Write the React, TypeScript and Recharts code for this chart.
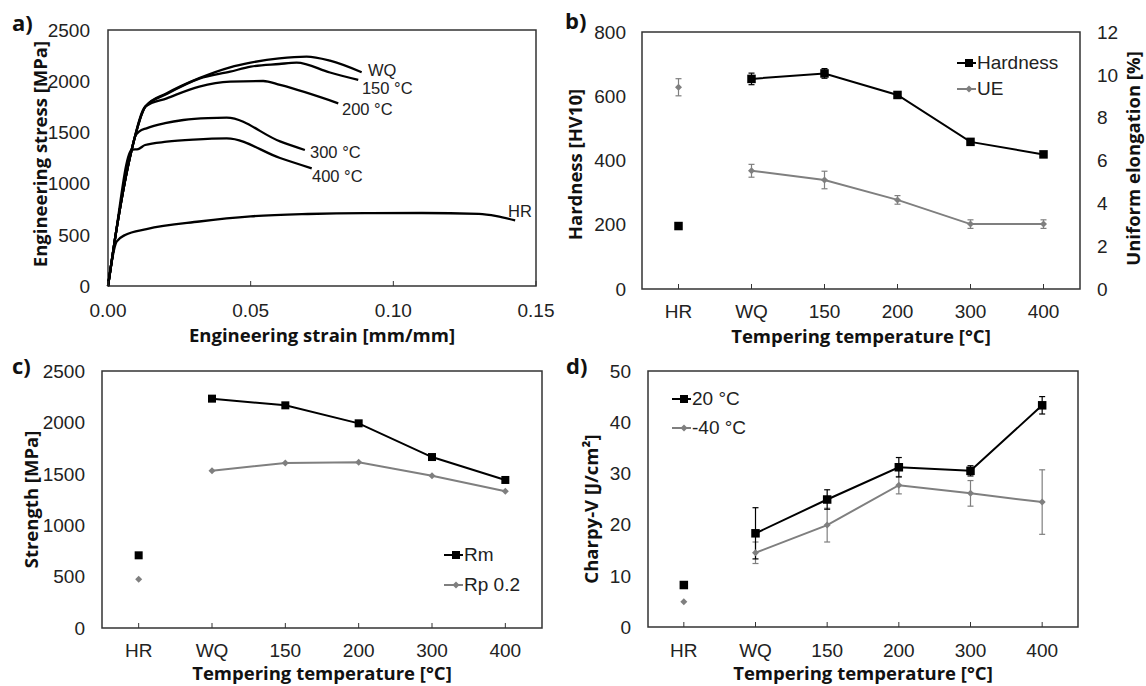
import React from 'react';
import {
  ErrorBar,
  Label,
  Legend,
  Line,
  LineChart,
  ReferenceArea,
  ReferenceDot,
  XAxis,
  YAxis
} from 'recharts';

// ---- a) tensile curves, [strain mm/mm, stress MPa]
const curveWQ = [[0, 0], [0.0024, 450], [0.0083, 1330], [0.0132, 1755], [0.0206, 1882], [0.032, 2030], [0.0428, 2136], [0.05, 2181], [0.06, 2223], [0.0696, 2240], [0.0778, 2200], [0.0889, 2087]];
const curve150 = [[0, 0], [0.0024, 450], [0.0083, 1330], [0.0132, 1755], [0.0206, 1875], [0.032, 2025], [0.0428, 2093], [0.05, 2142], [0.06, 2168], [0.0661, 2181], [0.0778, 2085], [0.0877, 2012]];
const curve200 = [[0, 0], [0.0024, 450], [0.0083, 1330], [0.0132, 1755], [0.0206, 1833], [0.032, 1947], [0.0428, 1995], [0.0544, 2002], [0.0603, 1963], [0.0807, 1784]];
const curve300 = [[0, 0], [0.0024, 450], [0.0083, 1330], [0.0095, 1460], [0.011, 1510], [0.0135, 1540], [0.02, 1590], [0.0264, 1621], [0.035, 1640], [0.0416, 1644], [0.0603, 1412], [0.069, 1328]];
const curve400 = [[0, 0], [0.0024, 450], [0.0083, 1330], [0.0106, 1337], [0.013, 1377], [0.0206, 1409], [0.03, 1430], [0.0416, 1442], [0.0603, 1250], [0.0714, 1149]];
const curveHR = [[0, 0], [0.003, 433], [0.006, 498], [0.0135, 556], [0.032, 630], [0.05, 680], [0.07, 703], [0.09, 712], [0.11, 713], [0.13, 705], [0.1362, 683], [0.1427, 640]];

const curveLabels = [
  { text: 'WQ', strain: 0.0911, stress: 2109 },
  { text: '150 °C', strain: 0.089, stress: 1934 },
  { text: '200 °C', strain: 0.082, stress: 1729 },
  { text: '300 °C', strain: 0.0708, stress: 1304 },
  { text: '400 °C', strain: 0.0715, stress: 1074 },
  { text: 'HR', strain: 0.1402, stress: 732 }
];

const strainTicks = [0, 0.05, 0.1, 0.15];
const stressTicks = [0, 500, 1000, 1500, 2000, 2500];

// ---- b), c), d) categories
const categories = ['HR', 'WQ', '150', '200', '300', '400'];
const catTicks = [0, 1, 2, 3, 4, 5];

const hardness = [196, 654, 671, 604, 458, 419];
const hardnessErr = [0, 18, 15, 10, 6, 6];
const uniformElong = [9.42, 5.52, 5.09, 4.16, 3.03, 3.03];
const uniformElongErr = [0.4, 0.3, 0.41, 0.2, 0.2, 0.2];
const hardnessTicks = [0, 200, 400, 600, 800];
const ueTicks = [0, 2, 4, 6, 8, 10, 12];

const rm = [707, 2231, 2166, 1991, 1663, 1440];
const rp02 = [474, 1530, 1605, 1612, 1482, 1330];

const charpy20 = [8.2, 18.3, 24.9, 31.2, 30.5, 43.3];
const charpy20Err = [0, 5.0, 1.9, 1.9, 1.0, 1.7];
const charpy40 = [4.95, 14.5, 19.9, 27.7, 26.1, 24.4];
const charpy40Err = [0, 2.1, 3.3, 1.7, 2.5, 6.3];
const charpyTicks = [0, 10, 20, 30, 40, 50];

const BLACK = '#000000';
const GRAY = '#7f7f7f';
const FRAME = '#333333';
const tickFamily = '"Liberation Sans", Arial, sans-serif';
const tickStyle = { fontFamily: tickFamily, fontSize: 19, fill: '#222' };
const titleProps = { fontFamily: '"Open Sans", sans-serif', fontWeight: 700, fontSize: 18.5, fill: '#111' };

const toPoints = (curve: number[][]) => curve.map(([x, y]) => ({ x, y }));

// main series skips HR, which is drawn as a lone point
function splitRows(series: Record<string, { values: number[]; errors?: number[] }>) {
  return categories.map((_, i) => {
    const row: Record<string, number | null> = { i };
    Object.entries(series).forEach(([key, s]) => {
      row[key] = i === 0 ? null : s.values[i];
      row[key + 'HR'] = i === 0 ? s.values[i] : null;
      if (s.errors) {
        row[key + 'Err'] = i === 0 ? null : s.errors[i];
        row[key + 'HRErr'] = i === 0 ? s.errors[i] : null;
      }
    });
    return row;
  });
}

function squareDot(size: number, fill: string) {
  return (props: any) => {
    const { cx, cy, index } = props;
    if (!Number.isFinite(cx) || !Number.isFinite(cy)) return <g key={`s${index}`} />;
    return <rect key={`s${index}`} x={cx - size / 2} y={cy - size / 2} width={size} height={size} fill={fill} />;
  };
}

function diamondDot(size: number, fill: string) {
  return (props: any) => {
    const { cx, cy, index } = props;
    if (!Number.isFinite(cx) || !Number.isFinite(cy)) return <g key={`d${index}`} />;
    const h = size / 2;
    return <path key={`d${index}`} d={`M${cx},${cy - h}L${cx + h},${cy}L${cx},${cy + h}L${cx - h},${cy}Z`} fill={fill} />;
  };
}

interface LegendItem { label: string; color: string; shape: 'square' | 'diamond' }

function MarkerLegend({ items, rowHeight }: { items: LegendItem[]; rowHeight: number }) {
  return (
    <div style={{ fontFamily: tickFamily, fontSize: 19, color: '#222' }}>
      {items.map((it) => (
        <div key={it.label} style={{ display: 'flex', alignItems: 'center', height: rowHeight, whiteSpace: 'nowrap' }}>
          <svg width={19} height={12} style={{ marginRight: 1 }}>
            <line x1={0} y1={6} x2={19} y2={6} stroke={it.color} strokeWidth={2} />
            {it.shape === 'square'
              ? <rect x={8} y={2} width={8} height={8} fill={it.color} />
              : <path d="M12,2.5L15.5,6L12,9.5L8.5,6Z" fill={it.color} />}
          </svg>
          <span>{it.label}</span>
        </div>
      ))}
    </div>
  );
}

const catAxis = (tickMargin: number, dy: number) => (
  <XAxis
    type="number"
    dataKey="i"
    domain={[-0.5, 5.5]}
    ticks={catTicks}
    interval={0}
    tickFormatter={(v: number) => categories[v]}
    tick={tickStyle}
    tickSize={-5}
    tickMargin={tickMargin}
    axisLine={false}
    stroke={FRAME}
    height={40}
  >
    <Label value="Tempering temperature [°C]" position="center" dy={dy} {...titleProps} />
  </XAxis>
);

function TensilePanel() {
  const curves = [curveWQ, curve150, curve200, curve300, curve400, curveHR];
  return (
    <LineChart width={560} height={350} margin={{ top: 30, right: 24, bottom: 24, left: 38 }}>
      <XAxis
        type="number"
        dataKey="x"
        domain={[0, 0.15]}
        ticks={strainTicks}
        interval={0}
        tickFormatter={(v: number) => v.toFixed(2)}
        tick={tickStyle}
        tickSize={-5}
        tickMargin={23}
        axisLine={false}
        stroke={FRAME}
        height={40}
      >
        <Label value="Engineering strain [mm/mm]" position="center" dy={29} {...titleProps} />
      </XAxis>
      <YAxis type="number" domain={[0, 2500]} ticks={stressTicks} interval={0} tick={tickStyle} tickLine={false} tickSize={0} tickMargin={18} axisLine={false} width={70}>
        <Label value="Engineering stress [MPa]" angle={-90} position="center" dx={-33} dy={-4} {...titleProps} />
      </YAxis>
      <ReferenceArea x1={0} x2={0.15} y1={0} y2={2500} fill="none" stroke={FRAME} strokeWidth={1.5} />
      {curves.map((c, k) => (
        <Line key={k} data={toPoints(c)} dataKey="y" type="monotone" stroke={BLACK} strokeWidth={2.3} dot={false} isAnimationActive={false} />
      ))}
      {curveLabels.map((l) => (
        <ReferenceDot
          key={l.text}
          x={l.strain}
          y={l.stress}
          r={0}
          fill="none"
          stroke="none"
          label={{ value: l.text, position: 'right', offset: 0, fontFamily: tickFamily, fontSize: 16.5, fill: '#222' }}
        />
      ))}
    </LineChart>
  );
}

function HardnessPanel() {
  const rows = splitRows({ hard: { values: hardness, errors: hardnessErr }, ue: { values: uniformElong, errors: uniformElongErr } });
  const items: LegendItem[] = [
    { label: 'Hardness', color: BLACK, shape: 'square' },
    { label: 'UE', color: GRAY, shape: 'diamond' }
  ];
  return (
    <LineChart width={586} height={350} data={rows} margin={{ top: 32, right: 16, bottom: 21, left: 22 }}>
      {catAxis(21, 27)}
      <YAxis yAxisId="left" type="number" domain={[0, 800]} ticks={hardnessTicks} interval={0} tick={tickStyle} tickLine={false} tickSize={0} tickMargin={16} axisLine={false} width={60}>
        <Label value="Hardness [HV10]" angle={-90} position="center" dx={-37} dy={4} {...titleProps} />
      </YAxis>
      <YAxis yAxisId="right" orientation="right" type="number" domain={[0, 12]} ticks={ueTicks} interval={0} tick={tickStyle} tickLine={false} tickSize={0} tickMargin={17} axisLine={false} width={50}>
        <Label value="Uniform elongation [%]" angle={-90} position="center" dx={28} dy={-2} {...titleProps} />
      </YAxis>
      <ReferenceArea yAxisId="left" x1={-0.5} x2={5.5} y1={0} y2={800} fill="none" stroke={FRAME} strokeWidth={1.5} />
      <Line yAxisId="right" dataKey="ue" name="UE" stroke={GRAY} strokeWidth={2} dot={diamondDot(7, GRAY)} isAnimationActive={false}>
        <ErrorBar dataKey="ueErr" width={3} stroke={GRAY} strokeWidth={1.2} direction="y" />
      </Line>
      <Line yAxisId="right" dataKey="ueHR" legendType="none" stroke="none" dot={diamondDot(7, GRAY)} isAnimationActive={false}>
        <ErrorBar dataKey="ueHRErr" width={3} stroke={GRAY} strokeWidth={1.2} direction="y" />
      </Line>
      <Line yAxisId="left" dataKey="hard" name="Hardness" stroke={BLACK} strokeWidth={2} dot={squareDot(8.5, BLACK)} isAnimationActive={false}>
        <ErrorBar dataKey="hardErr" width={3} stroke={BLACK} strokeWidth={1.2} direction="y" />
      </Line>
      <Line yAxisId="left" dataKey="hardHR" legendType="none" stroke="none" dot={squareDot(8.5, BLACK)} isAnimationActive={false} />
      <Legend
        layout="vertical"
        align="center"
        verticalAlign="middle"
        wrapperStyle={{ left: 397, top: 50, width: 'auto' }}
        content={() => <MarkerLegend items={items} rowHeight={26} />}
      />
    </LineChart>
  );
}

function StrengthPanel() {
  const rows = splitRows({ rm: { values: rm }, rp: { values: rp02 } });
  const items: LegendItem[] = [
    { label: 'Rm', color: BLACK, shape: 'square' },
    { label: 'Rp 0.2', color: GRAY, shape: 'diamond' }
  ];
  return (
    <LineChart width={560} height={356} data={rows} margin={{ top: 41, right: 18, bottom: 18, left: 32 }}>
      {catAxis(21, 25)}
      <YAxis type="number" domain={[0, 2500]} ticks={stressTicks} interval={0} tick={tickStyle} tickLine={false} tickSize={0} tickMargin={17} axisLine={false} width={70}>
        <Label value="Strength [MPa]" angle={-90} position="center" dx={-36} {...titleProps} />
      </YAxis>
      <ReferenceArea x1={-0.5} x2={5.5} y1={0} y2={2500} fill="none" stroke={FRAME} strokeWidth={1.5} />
      <Line dataKey="rp" name="Rp 0.2" stroke={GRAY} strokeWidth={2} dot={diamondDot(7, GRAY)} isAnimationActive={false} />
      <Line dataKey="rpHR" legendType="none" stroke="none" dot={diamondDot(7, GRAY)} isAnimationActive={false} />
      <Line dataKey="rm" name="Rm" stroke={BLACK} strokeWidth={2} dot={squareDot(8, BLACK)} isAnimationActive={false} />
      <Line dataKey="rmHR" legendType="none" stroke="none" dot={squareDot(8, BLACK)} isAnimationActive={false} />
      <Legend
        layout="vertical"
        align="center"
        verticalAlign="middle"
        wrapperStyle={{ left: 444, top: 210, width: 'auto' }}
        content={() => <MarkerLegend items={items} rowHeight={30} />}
      />
    </LineChart>
  );
}

function CharpyPanel() {
  const rows = splitRows({ c20: { values: charpy20, errors: charpy20Err }, c40: { values: charpy40, errors: charpy40Err } });
  const items: LegendItem[] = [
    { label: '20 °C', color: BLACK, shape: 'square' },
    { label: '-40 °C', color: GRAY, shape: 'diamond' }
  ];
  return (
    <LineChart width={586} height={356} data={rows} margin={{ top: 41, right: 68, bottom: 19, left: 28 }}>
      {catAxis(22, 26)}
      <YAxis type="number" domain={[0, 50]} ticks={charpyTicks} interval={0} tick={tickStyle} tickLine={false} tickSize={0} tickMargin={17} axisLine={false} width={60}>
        <Label value="Charpy-V [J/cm²]" angle={-90} position="center" dx={-27} dy={10} {...titleProps} />
      </YAxis>
      <ReferenceArea x1={-0.5} x2={5.5} y1={0} y2={50} fill="none" stroke={FRAME} strokeWidth={1.5} />
      <Line dataKey="c40" name="-40 °C" stroke={GRAY} strokeWidth={2} dot={diamondDot(7, GRAY)} isAnimationActive={false}>
        <ErrorBar dataKey="c40Err" width={3} stroke={GRAY} strokeWidth={1.2} direction="y" />
      </Line>
      <Line dataKey="c40HR" legendType="none" stroke="none" dot={diamondDot(7, GRAY)} isAnimationActive={false} />
      <Line dataKey="c20" name="20 °C" stroke={BLACK} strokeWidth={2} dot={squareDot(8.5, BLACK)} isAnimationActive={false}>
        <ErrorBar dataKey="c20Err" width={3} stroke={BLACK} strokeWidth={1.2} direction="y" />
      </Line>
      <Line dataKey="c20HR" legendType="none" stroke="none" dot={squareDot(8.5, BLACK)} isAnimationActive={false} />
      <Legend
        layout="vertical"
        align="center"
        verticalAlign="middle"
        wrapperStyle={{ left: 112, top: 54, width: 'auto' }}
        content={() => <MarkerLegend items={items} rowHeight={29} />}
      />
    </LineChart>
  );
}

const letterStyle: React.CSSProperties = {
  position: 'absolute',
  fontFamily: '"Open Sans", sans-serif',
  fontWeight: 700,
  fontSize: 22,
  lineHeight: '22px',
  color: '#111'
};

export default function App() {
  return (
    <div style={{ position: 'absolute', left: 0, top: 0, width: 1146, height: 686, background: '#fff', overflow: 'hidden' }}>
      <div style={{ position: 'absolute', left: 0, top: 0 }}><TensilePanel /></div>
      <div style={{ position: 'absolute', left: 560, top: 0 }}><HardnessPanel /></div>
      <div style={{ position: 'absolute', left: 0, top: 330 }}><StrengthPanel /></div>
      <div style={{ position: 'absolute', left: 560, top: 330 }}><CharpyPanel /></div>
      <div style={{ ...letterStyle, left: 12, top: 11 }}>a)</div>
      <div style={{ ...letterStyle, left: 565, top: 9 }}>b)</div>
      <div style={{ ...letterStyle, left: 12, top: 354 }}>c)</div>
      <div style={{ ...letterStyle, left: 566, top: 354 }}>d)</div>
    </div>
  );
}
